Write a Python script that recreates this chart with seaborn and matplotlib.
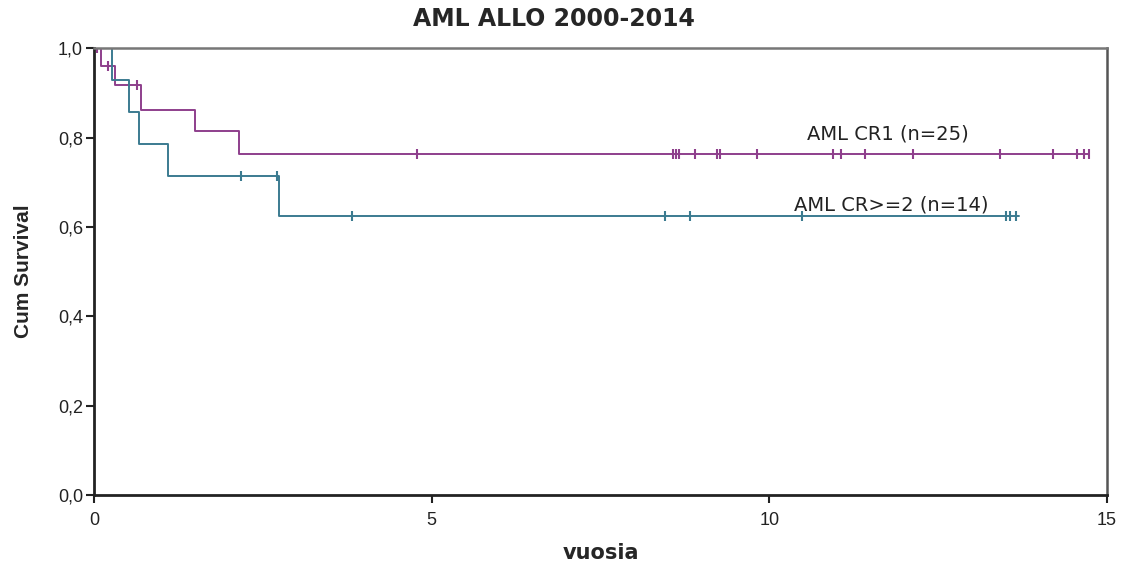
import numpy as np
import pandas as pd
import matplotlib
matplotlib.use("Agg")
import matplotlib.pyplot as plt
import seaborn as sns

# AML CR1 (n=25): step times (years) and survival after each step
cr1_t = [0.0, 0.11, 0.31, 0.70, 1.49, 2.15, 14.73]
cr1_s = [1.0, 0.96, 0.918, 0.862, 0.814, 0.764, 0.764]
cr1_cens = [0.05, 0.21, 0.63, 4.79, 8.57, 8.62, 8.66, 8.90, 9.22, 9.27, 9.82,
            10.95, 11.06, 11.41, 12.13, 13.41, 14.20, 14.56, 14.66, 14.73]

# AML CR>=2 (n=14)
cr2_t = [0.0, 0.26, 0.52, 0.67, 1.10, 2.74, 13.70]
cr2_s = [1.0, 0.929, 0.857, 0.786, 0.714, 0.625, 0.625]
cr2_cens = [2.18, 2.71, 3.82, 8.46, 8.83, 10.48, 13.50, 13.57, 13.65]

purple = "#8e3f8c"
teal = "#3b7b90"

df = pd.concat([
    pd.DataFrame({"vuosia": cr1_t, "surv": cr1_s, "grp": "AML CR1 (n=25)"}),
    pd.DataFrame({"vuosia": cr2_t, "surv": cr2_s, "grp": "AML CR>=2 (n=14)"}),
])

sns.set_style("white")
plt.rcParams['font.family'] = ['Liberation Sans', 'DejaVu Sans']

fig = plt.figure(figsize=(11.22, 5.67), dpi=100)
ax = fig.add_axes([0.0838, 0.127, 0.9028, 0.788])

for g, col in zip(["AML CR1 (n=25)", "AML CR>=2 (n=14)"], [purple, teal]):
    sub = df[df["grp"] == g]
    sns.lineplot(data=sub, x="vuosia", y="surv", drawstyle="steps-post",
                 color=col, lw=1.4, ax=ax, legend=False)

# censoring marks
def step_val(t, ts, ss):
    i = np.searchsorted(ts, t, side="right") - 1
    return np.array(ss)[i]

for cens, ts, ss, col in [(cr1_cens, cr1_t, cr1_s, purple), (cr2_cens, cr2_t, cr2_s, teal)]:
    ys = [step_val(c, ts, ss) for c in cens]
    ax.plot(cens, ys, ls="none", marker="|", ms=7, mew=1.5, color=col)

ax.text(11.75, 0.807, "AML CR1 (n=25)", fontsize=14, ha="center", va="center",
        color="#222222", family=["DejaVu Sans"])
ax.text(11.8, 0.628, "AML CR>=2 (n=14)", fontsize=14, ha="center", va="bottom",
        color="#222222", family=["DejaVu Sans"])

ax.set_xlim(0, 15)
ax.set_ylim(0, 1.0)
ax.set_xticks([0, 5, 10, 15])
ax.set_yticks([0, 0.2, 0.4, 0.6, 0.8, 1.0])
ax.set_yticklabels(["0,0", "0,2", "0,4", "0,6", "0,8", "1,0"])
ax.tick_params(axis="both", length=6, width=1.5, direction="out", labelsize=13,
               colors="#222222", left=True, bottom=True)
ax.tick_params(axis="y", pad=2)
ax.tick_params(axis="x", pad=6)

for side in ["left", "bottom"]:
    ax.spines[side].set_linewidth(2.0)
    ax.spines[side].set_color("#222222")
ax.spines["top"].set_linewidth(1.8)
ax.spines["top"].set_color("#777777")
ax.spines["right"].set_linewidth(1.8)
ax.spines["right"].set_color("#555555")

ax.set_xlabel("vuosia", fontsize=15, fontweight="bold", labelpad=10, family=["DejaVu Sans"])
ax.set_ylabel("Cum Survival", fontsize=15, fontweight="bold", labelpad=18)
fig.text(0.494, 0.966, "AML ALLO 2000-2014", fontsize=17, fontweight="bold",
         ha="center", va="center", family=["DejaVu Sans"])

fig.savefig("out.png", dpi=100)
